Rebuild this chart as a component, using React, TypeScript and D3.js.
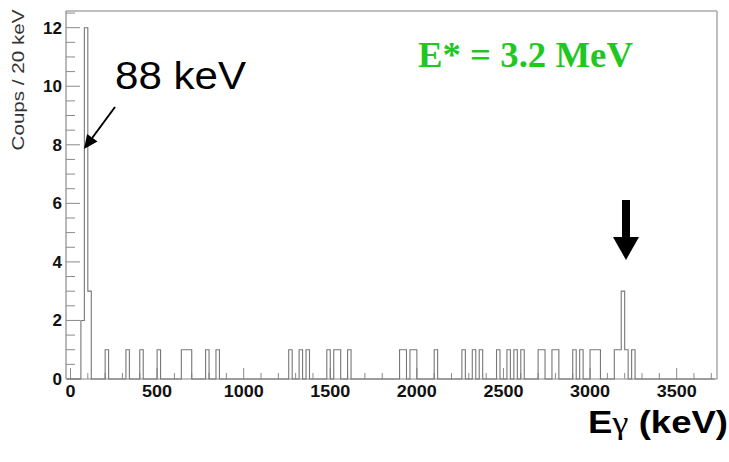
import React from 'react';
import * as d3 from 'd3';

// Histogram bins (lower edge in keV, 20 keV wide) and counts
const binLow = [
  60, 80, 100,
  200, 320, 400, 500, 640, 660, 680, 780, 840,
  1260, 1320, 1360, 1480, 1520, 1540, 1600,
  1900, 1920, 1960, 1980, 2100,
  2260, 2320, 2360, 2460, 2520, 2560, 2600,
  2700, 2720, 2780, 2800, 2900, 2940,
  3000, 3020, 3040, 3140, 3160, 3180, 3200, 3240,
];
const counts = [
  2, 12, 3,
  1, 1, 1, 1, 1, 1, 1, 1, 1,
  1, 1, 1, 1, 1, 1, 1,
  1, 1, 1, 1, 1,
  1, 1, 1, 1, 1, 1, 1,
  1, 1, 1, 1, 1, 1,
  1, 1, 1, 1, 1, 3, 1, 1,
];
const xTickLabels = ['0', '500', '1000', '1500', '2000', '2500', '3000', '3500'];
const yTickLabels = ['0', '2', '4', '6', '8', '10', '12'];

export default function App() {
  const W = 729, H = 462;
  const left = 66, right = 717, top = 11, bottom = 379;
  const x = d3.scaleLinear().domain([-26, 3733]).range([left, right]);
  const y = d3.scaleLinear().domain([0, 12.57]).range([bottom, top]);
  const binW = 20;
  const m = new Map<number, number>(binLow.map((b, i) => [b, counts[i]]));
  const pts: [number, number][] = [];
  for (let b = -20; b < 3720; b += binW) pts.push([b, m.get(b) ?? 0]);
  pts.push([3720, 0]);
  const line = d3.line<[number, number]>().x(d => x(d[0])).y(d => y(d[1])).curve(d3.curveStepAfter);

  const xMinor = d3.range(0, 3701, 100);
  const yMinor = d3.range(0, 12.51, 0.5);

  // arrow 1 geometry
  const a0 = [115, 107], a1 = [84, 149];
  const dx = a1[0] - a0[0], dy = a1[1] - a0[1];
  const L = Math.hypot(dx, dy);
  const ux = dx / L, uy = dy / L;
  const hl = 14, hw = 6.5;
  const bx = a1[0] - ux * hl, by = a1[1] - uy * hl;
  const head = `${a1[0]},${a1[1]} ${bx + uy * hw},${by - ux * hw} ${bx - uy * hw},${by + ux * hw}`;

  const axisColor = '#8a8a8a';
  const sans = 'Liberation Sans, Arial, sans-serif';

  return (
    <svg width={W} height={H} style={{ position: 'absolute', left: 0, top: 0, background: '#fff' }}>
      <rect x={0} y={0} width={W} height={H} fill="#fff" />
      {/* frame */}
      <line x1={left} y1={top} x2={right} y2={top} stroke="#aaa" strokeWidth={1.5} />
      <line x1={right} y1={top} x2={right} y2={bottom} stroke="#aaa" strokeWidth={1.5} />
      <line x1={left} y1={top} x2={left} y2={bottom} stroke={axisColor} strokeWidth={1.2} />
      <line x1={left} y1={bottom} x2={right} y2={bottom} stroke={axisColor} strokeWidth={1.2} />
      {/* x ticks */}
      {xMinor.map(v => (
        <line key={'xt' + v} x1={x(v)} x2={x(v)} y1={bottom} y2={bottom - (v % 500 === 0 ? 11 : 6)} stroke={axisColor} strokeWidth={1} />
      ))}
      {/* y ticks */}
      {yMinor.map(v => (
        <line key={'yt' + v} x1={left} x2={left + (v % 2 === 0 ? 14 : 9)} y1={y(v)} y2={y(v)} stroke={axisColor} strokeWidth={1} />
      ))}
      {/* histogram */}
      <path d={line(pts) ?? ''} fill="none" stroke="#777" strokeWidth={1.1} />
      {/* tick labels */}
      {xTickLabels.map(t => (
        <text key={'xl' + t} x={x(+t)} y={397} textAnchor="middle" fontFamily={sans} fontWeight="bold" fontSize={16.5}
          textLength={t.length * 10} lengthAdjust="spacingAndGlyphs" fill="#111">{t}</text>
      ))}
      {yTickLabels.map(t => (
        <text key={'yl' + t} x={62} y={y(+t) + 6} textAnchor="end" fontFamily={sans} fontWeight="bold" fontSize={16}
          textLength={t.length * 9.5} lengthAdjust="spacingAndGlyphs" fill="#111">{t}</text>
      ))}
      {/* y axis title */}
      <g transform="translate(24,80) rotate(-90)">
        <text transform="scale(1.25,1)" x={0} y={0} textAnchor="middle" fontFamily={sans} fontSize={16.5} fill="#333">Coups / 20 keV</text>
      </g>
      {/* annotations */}
      <text x={115} y={89} fontFamily={sans} fontSize={39} textLength={131} lengthAdjust="spacingAndGlyphs" fill="#000">88 keV</text>
      <line x1={a0[0]} y1={a0[1]} x2={bx} y2={by} stroke="#000" strokeWidth={2} />
      <polygon points={head} fill="#000" />
      <text x={418} y={67} fontFamily="Liberation Serif, Times New Roman, serif" fontWeight="bold" fontSize={36}
        textLength={215} lengthAdjust="spacingAndGlyphs" fill="rgb(30,200,30)">E* = 3.2 MeV</text>
      <rect x={622} y={200} width={8} height={38} fill="#000" />
      <polygon points="613,237 639,237 626,260" fill="#000" />
      <text x={588} y={433} fontFamily={sans} fontWeight="bold" fontSize={32} textLength={140} lengthAdjust="spacingAndGlyphs" fill="#000">
        E<tspan fontFamily="Liberation Serif, serif" fontWeight="normal">γ</tspan> (keV)
      </text>
    </svg>
  );
}
